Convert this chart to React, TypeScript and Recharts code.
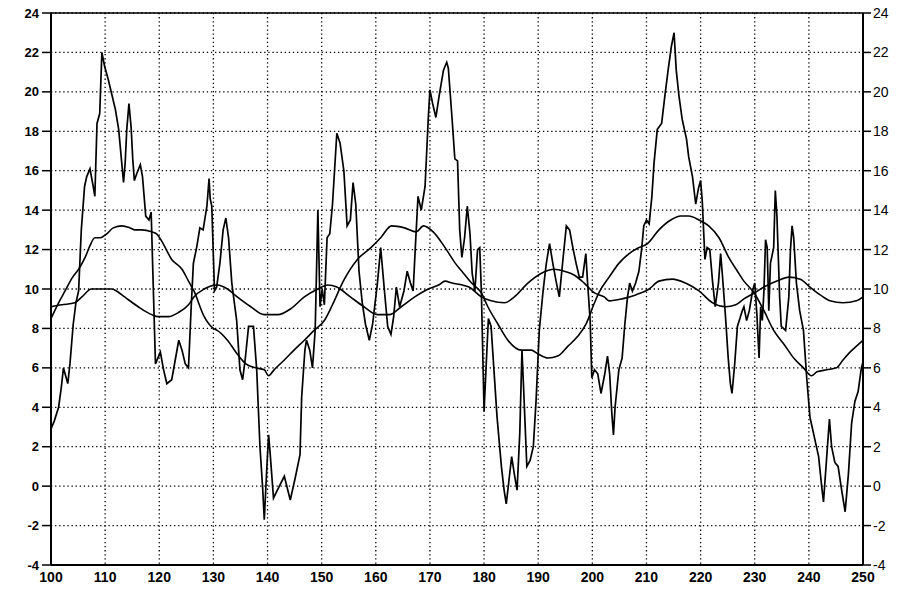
import React from "react";
import {
  LineChart,
  Line,
  XAxis,
  YAxis,
  CartesianGrid,
  ReferenceLine,
} from "recharts";

// Raw measured signal (irregular sample positions)
const rawX = [
  100.0, 100.6, 101.4, 101.9, 102.3, 102.7, 103.1, 103.5, 104.1, 104.6, 105.1, 105.6, 106.2, 106.6, 107.2, 107.8,
  108.1, 108.5, 109.0, 109.4, 109.9, 110.6, 111.9, 112.5, 113.0, 113.4, 113.7, 114.0, 114.4, 114.8, 115.1, 115.4,
  115.9, 116.5, 116.9, 117.5, 118.1, 118.5, 119.3, 120.2, 120.8, 121.4, 122.3, 123.6, 124.2, 124.8, 125.4, 125.9,
  126.3, 126.9, 127.5, 128.1, 128.8, 129.2, 129.4, 129.7, 130.2, 130.6, 131.2, 131.8, 132.3, 132.8, 133.4, 134.3,
  134.9, 135.4, 135.9, 136.5, 137.4, 138.0, 138.6, 139.1, 139.4, 139.9, 140.2, 140.5, 141.1, 142.0, 143.1, 144.2,
  145.1, 146.0, 146.3, 146.9, 147.2, 147.8, 148.3, 148.8, 149.3, 149.7, 150.1, 150.5, 151.0, 151.5, 152.0, 152.8,
  153.4, 154.1, 154.7, 155.3, 155.8, 156.3, 156.9, 157.5, 158.1, 158.8, 159.4, 160.3, 160.9, 161.6, 162.2, 162.8,
  163.3, 163.8, 164.4, 165.2, 165.8, 166.4, 166.9, 167.3, 167.8, 168.4, 169.1, 169.7, 170.0, 170.5, 171.1, 171.7,
  172.5, 173.1, 173.4, 174.1, 174.6, 175.1, 175.5, 175.9, 176.4, 176.9, 177.4, 177.8, 178.3, 178.8, 179.2, 179.5,
  180.0, 180.4, 180.8, 181.3, 181.8, 182.4, 183.2, 183.7, 184.1, 184.6, 185.1, 185.6, 186.1, 186.6, 187.0, 187.3,
  187.6, 187.9, 188.5, 189.1, 189.6, 190.2, 190.9, 191.5, 192.1, 192.7, 193.3, 193.9, 194.5, 195.2, 195.8, 196.4,
  197.0, 197.6, 198.2, 198.8, 199.1, 199.6, 199.9, 200.4, 201.0, 201.6, 202.3, 202.8, 203.2, 203.6, 203.9, 204.2,
  204.9, 205.5, 206.0, 206.5, 206.9, 207.4, 208.0, 208.6, 209.1, 209.5, 210.0, 210.5, 211.0, 211.4, 212.0, 212.8,
  213.4, 214.0, 214.6, 215.1, 215.5, 216.0, 216.6, 217.4, 217.8, 218.5, 219.1, 219.6, 220.0, 220.3, 220.8, 221.2,
  221.7, 222.2, 222.7, 223.3, 223.7, 224.0, 224.6, 225.1, 225.5, 225.8, 226.3, 226.8, 227.7, 228.0, 228.5, 229.0,
  229.6, 230.0, 230.4, 230.8, 231.1, 231.4, 231.7, 232.0, 232.3, 232.6, 232.9, 233.5, 233.8, 234.1, 234.6, 234.9,
  235.7, 236.3, 236.6, 236.9, 237.2, 237.7, 238.3, 239.0, 239.6, 240.2, 241.0, 241.8, 242.4, 242.7, 243.3, 243.8,
  244.2, 244.8, 245.4, 246.0, 246.7, 247.3, 247.9, 248.5, 249.1, 249.7, 250.0,
];
const rawY = [
  2.9, 3.3, 4.0, 5.0, 6.0, 5.6, 5.2, 6.2, 8.2, 9.3, 9.9, 13.0, 15.2, 15.7, 16.1, 15.2,
  14.7, 18.4, 18.9, 22.0, 21.3, 20.6, 19.1, 18.1, 16.6, 15.4, 16.4, 18.1, 19.4, 18.2, 16.6, 15.5,
  15.9, 16.3, 15.7, 13.7, 13.5, 13.9, 6.2, 6.8, 5.9, 5.2, 5.4, 7.4, 6.9, 6.2, 6.0, 9.1,
  11.3, 12.1, 13.1, 13.0, 14.2, 15.6, 14.6, 14.2, 9.9, 10.1, 11.3, 13.0, 13.6, 12.6, 10.3, 8.4,
  5.9, 5.4, 6.5, 8.1, 8.1, 5.9, 2.0, -0.1, -1.7, 1.1, 2.6, 1.6, -0.6, -0.1, 0.5, -0.7,
  0.4, 1.6, 4.5, 6.9, 7.4, 6.9, 6.0, 7.9, 14.0, 9.1, 10.0, 9.2, 12.6, 12.8, 14.3, 17.9,
  17.4, 16.0, 13.2, 13.5, 15.4, 14.3, 10.9, 9.3, 8.2, 7.4, 8.2, 10.3, 12.1, 9.9, 8.1, 7.7,
  8.6, 10.1, 9.1, 9.9, 10.9, 10.3, 9.9, 12.1, 14.7, 14.0, 15.2, 18.7, 20.1, 19.4, 18.7, 19.8,
  21.1, 21.5, 21.2, 18.6, 16.6, 16.5, 13.0, 11.6, 12.6, 14.2, 12.8, 10.8, 9.9, 12.0, 12.1, 9.9,
  3.8, 6.2, 8.5, 8.1, 6.0, 3.5, 1.0, -0.2, -0.9, 0.3, 1.5, 0.6, -0.2, 2.7, 6.9, 5.0,
  3.0, 1.0, 1.3, 2.0, 4.3, 7.9, 9.9, 11.3, 12.3, 11.3, 10.4, 9.6, 11.3, 13.2, 13.0, 12.1,
  11.3, 10.6, 10.6, 11.8, 10.4, 8.4, 5.5, 5.9, 5.7, 4.7, 5.7, 6.6, 5.7, 3.7, 2.6, 4.0,
  5.9, 6.5, 8.2, 9.6, 10.3, 9.9, 10.3, 10.9, 12.0, 13.2, 13.5, 13.3, 14.7, 16.4, 18.1, 18.4,
  19.8, 21.1, 22.3, 23.0, 21.1, 19.8, 18.6, 17.6, 16.7, 15.7, 14.3, 15.1, 15.5, 14.5, 11.5, 12.1,
  12.0, 10.4, 9.1, 10.3, 11.8, 10.8, 8.6, 6.5, 5.2, 4.7, 6.2, 8.1, 8.9, 9.1, 8.4, 8.9,
  9.9, 10.3, 8.7, 6.5, 9.1, 8.4, 9.9, 12.5, 12.1, 8.9, 11.3, 12.1, 15.0, 13.7, 9.6, 8.1,
  7.9, 9.6, 12.0, 13.2, 12.6, 10.3, 8.9, 7.9, 5.5, 3.5, 2.5, 1.5, -0.1, -0.8, 1.5, 3.4,
  2.0, 1.2, 1.0, -0.1, -1.3, 0.6, 3.2, 4.3, 4.8, 6.0, 6.3,
];

// Short-window smoothed trend
const trendX = [
  100, 101.4, 102.6, 104, 105.1, 106.3, 107.2, 108.1, 109.1, 110.3, 111.5, 113.1, 114.6, 115.5, 116.8, 118.6,
  119.5, 120.5, 122.3, 124.2, 125.4, 126.4, 128.3, 130, 130.7, 132.6, 134.4, 136, 137.8, 139.4, 140.2, 141.2,
  143.1, 144.9, 146.8, 148.6, 150.5, 152, 154, 156.6, 159.1, 160.9, 162.9, 165.3, 167.5, 168.8, 170.6, 172.8,
  174.7, 175.9, 177.7, 179.5, 180.7, 182.6, 184.4, 186.9, 188.7, 190, 191.8, 193.6, 195.5, 197.3, 198.8, 200.4,
  201.2, 203.1, 204.9, 206.8, 208.6, 210.2, 212.3, 214.5, 216.3, 217.8, 219.7, 221.5, 223.4, 225.2, 226.8, 228,
  229.9, 231.7, 233.5, 235.4, 237.2, 239, 240.5, 241.5, 243.3, 245.1, 246.3, 247.6, 248.8, 250,
];
const trendY = [
  8.5, 9.3, 9.9, 10.6, 11.0, 11.6, 12.2, 12.6, 12.6, 12.8, 13.1, 13.2, 13.1, 13.0, 13.0, 12.9,
  12.8, 12.4, 11.5, 11.0, 10.4, 9.9, 8.6, 8.0, 7.9, 7.4, 6.7, 6.2, 6.0, 5.9, 5.6, 5.9,
  6.4, 6.9, 7.4, 7.9, 8.4, 9.2, 10.4, 11.5, 12.1, 12.6, 13.2, 13.1, 12.9, 13.2, 12.9, 12.1,
  11.3, 10.9, 10.3, 9.8, 9.1, 8.2, 7.4, 6.9, 6.9, 6.7, 6.5, 6.6, 7.1, 7.6, 8.2, 9.3,
  9.8, 10.6, 11.3, 11.8, 12.1, 12.3, 13.0, 13.5, 13.7, 13.7, 13.5, 13.2, 12.6, 11.6, 10.9, 10.4,
  9.8, 8.9, 7.9, 7.2, 6.5, 6.0, 5.6, 5.8, 5.9, 6.0, 6.4, 6.8, 7.1, 7.4,
];

// Long-window smoothed baseline
const baseX = [
  100, 102, 104.4, 105.7, 107.5, 111.2, 112.1, 113.6, 116.1, 118.6, 119.8, 121.7, 123.5, 125.4, 126.4, 128.3,
  130.7, 132.6, 134.4, 136.9, 139.4, 141.9, 144.3, 146.8, 149.3, 151.1, 152.8, 155.3, 157.8, 160.3, 162.5, 164.7,
  167.2, 169.7, 171.6, 172.8, 174.1, 176, 177.2, 179.5, 181.3, 183.8, 185.6, 188.1, 190.6, 193, 194.8, 196.7,
  198.5, 200.4, 202.2, 203.1, 205.5, 208, 210.5, 212.3, 214.8, 217.2, 219.7, 222.2, 224.6, 226.5, 228, 229.9,
  231.7, 234.1, 236.3, 238.4, 240.2, 242.1, 243.9, 246.3, 248.8, 250,
];
const baseY = [
  9.1, 9.2, 9.3, 9.6, 10.0, 10.0, 9.9, 9.6, 9.1, 8.7, 8.6, 8.6, 8.8, 9.2, 9.6, 10.0,
  10.2, 10.0, 9.6, 9.1, 8.7, 8.7, 9.0, 9.6, 10.0, 10.2, 10.1, 9.6, 9.1, 8.7, 8.7, 9.1,
  9.6, 10.0, 10.2, 10.4, 10.3, 10.2, 10.1, 9.6, 9.4, 9.3, 9.6, 10.3, 10.8, 11.0, 10.9, 10.7,
  10.3, 9.8, 9.6, 9.4, 9.5, 9.7, 10.0, 10.4, 10.5, 10.3, 9.9, 9.3, 9.1, 9.2, 9.5, 9.8,
  10.1, 10.4, 10.6, 10.5, 10.1, 9.7, 9.4, 9.3, 9.4, 9.6,
];

const xTicks = [100, 110, 120, 130, 140, 150, 160, 170, 180, 190, 200, 210, 220, 230, 240, 250];
const yTicks = [-4, -2, 0, 2, 4, 6, 8, 10, 12, 14, 16, 18, 20, 22, 24];

const toPoints = (xs: number[], ys: number[]) => xs.map((x, i) => ({ x, y: ys[i] }));

const rawData = toPoints(rawX, rawY);
const trendData = toPoints(trendX, trendY);
const baseData = toPoints(baseX, baseY);

const font = "'Liberation Sans', Arial, Helvetica, sans-serif";

export default function App() {
  return (
    <div style={{ position: "absolute", left: 0, top: 0, width: 902, height: 589, background: "#fff" }}>
      <LineChart width={902} height={589} margin={{ top: 13, right: 0, bottom: 0, left: 0 }}>
        <CartesianGrid
          yAxisId="left"
          stroke="#000"
          strokeWidth={1.3}
          strokeDasharray="1.3 2.8"
        />
        <XAxis
          type="number"
          dataKey="x"
          domain={[100, 250]}
          ticks={xTicks}
          allowDataOverflow
          height={24}
          axisLine={{ stroke: "#000", strokeWidth: 2 }}
          tickLine={false}
          tickSize={0}
          tickMargin={7}
          tick={{ fill: "#000", fontSize: 14, fontWeight: "bold", fontFamily: font }}
        />
        <YAxis
          yAxisId="left"
          orientation="left"
          type="number"
          domain={[-4, 24]}
          ticks={yTicks}
          allowDataOverflow
          width={51}
          axisLine={{ stroke: "#000", strokeWidth: 2 }}
          tickLine={{ stroke: "#000", strokeWidth: 1.5 }}
          tickSize={9}
          tickMargin={3}
          tick={{ fill: "#000", fontSize: 13, fontWeight: "bold", fontFamily: font }}
        />
        <YAxis
          yAxisId="right"
          orientation="right"
          type="number"
          domain={[-4, 24]}
          ticks={yTicks}
          allowDataOverflow
          width={39}
          axisLine={{ stroke: "#000", strokeWidth: 2 }}
          tickLine={{ stroke: "#000", strokeWidth: 1.5 }}
          tickSize={8}
          tickMargin={2}
          tick={{ fill: "#000", fontSize: 14, fontFamily: font }}
        />
        <ReferenceLine yAxisId="left" y={24} stroke="#000" strokeWidth={1.5} />
        <Line
          yAxisId="left"
          data={baseData}
          dataKey="y"
          type="monotone"
          stroke="#000"
          strokeWidth={1.6}
          dot={false}
          isAnimationActive={false}
        />
        <Line
          yAxisId="left"
          data={trendData}
          dataKey="y"
          type="monotone"
          stroke="#000"
          strokeWidth={1.6}
          dot={false}
          isAnimationActive={false}
        />
        <Line
          yAxisId="left"
          data={rawData}
          dataKey="y"
          type="linear"
          stroke="#000"
          strokeWidth={1.7}
          dot={false}
          isAnimationActive={false}
        />
      </LineChart>
    </div>
  );
}
